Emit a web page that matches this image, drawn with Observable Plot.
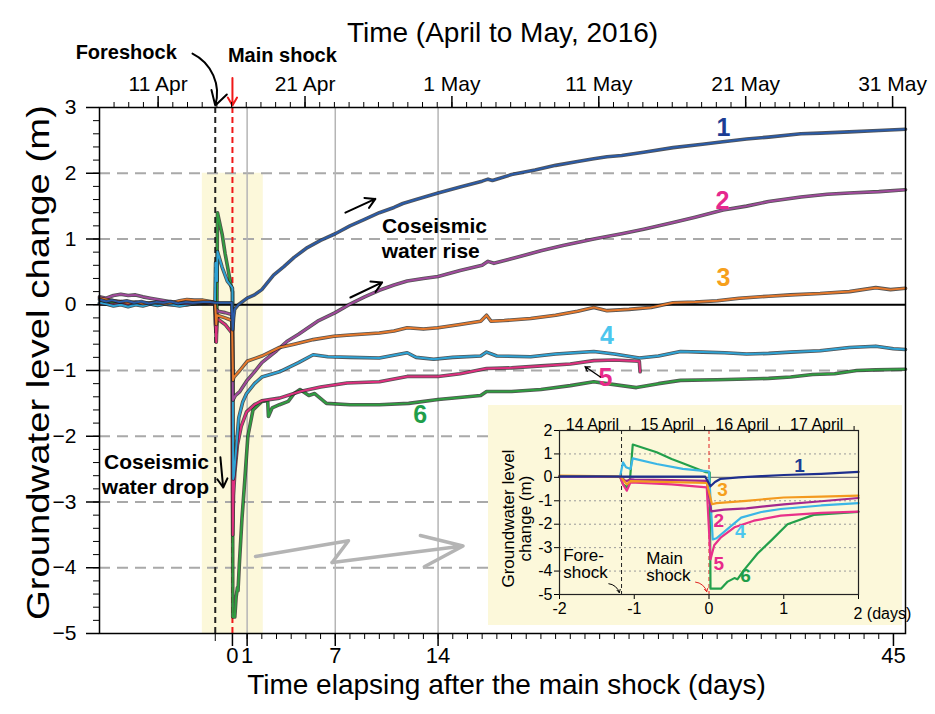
<!DOCTYPE html>
<html><head><meta charset="utf-8">
<script src="https://cdn.jsdelivr.net/npm/d3@7"></script>
<script src="https://cdn.jsdelivr.net/npm/@observablehq/plot@0.6"></script>
<style>
html,body{margin:0;padding:0;background:#fff;}
#wrap{position:relative;width:935px;height:714px;overflow:hidden;background:#fff;}
#inset{position:absolute;left:488px;top:405px;}
svg{display:block;}
</style></head><body>
<div id="wrap"><div id="main"></div><div id="inset"></div></div>
<script>
// ---------------- data: [days after main shock, groundwater level change (m)] ----------------
const well1 = [[-9.05,0.08],[-8.6,0.05],[-8.2,0.07],[-7.7,0.04],[-7.2,0.06],[-6.7,0.03],[-6.2,0.05],[-5.7,0.02],[-5.2,0.04],[-4.7,0.03],[-4.2,0.05],[-3.7,0.02],[-3.2,0.04],[-2.7,0.03],[-2,0.04],[-1.5,0.04],[-1.17,0.03],[-0.6,0.03],[-0.05,0.03],[0.02,-0.38],[0.08,-0.2],[0.15,-0.07],[0.4,0.0],[0.7,0.05],[1,0.1],[1.5,0.15],[2,0.23],[2.8,0.45],[3.5,0.58],[4.2,0.72],[5.1,0.87],[6,0.98],[7,1.08],[8,1.2],[9,1.3],[10,1.4],[11,1.48],[11.6,1.54],[12.5,1.6],[14,1.7],[15.5,1.79],[17,1.88],[17.4,1.91],[17.7,1.89],[19,1.98],[20.6,2.05],[22,2.12],[23.5,2.18],[24.6,2.22],[25.5,2.25],[26.5,2.27],[28,2.32],[30,2.39],[32,2.44],[33.4,2.48],[35,2.52],[36.5,2.55],[38.7,2.6],[40,2.61],[42,2.63],[44,2.65],[45.82,2.67]];
const well2 = [[-9.05,0.12],[-8.6,0.1],[-8.1,0.14],[-7.6,0.16],[-7.1,0.14],[-6.6,0.15],[-6.1,0.12],[-5.6,0.1],[-5.1,0.08],[-4.6,0.06],[-4.1,0.04],[-3.6,0.03],[-3.1,0.02],[-2.5,0.03],[-2,0.04],[-1.5,0.03],[-1.18,0.02],[-1.13,-0.12],[-1.1,-0.16],[-1.05,-0.08],[-1.0,-0.1],[-0.5,-0.12],[-0.03,-0.15],[0.03,-1.45],[0.2,-1.38],[0.5,-1.32],[1,-1.15],[1.5,-1.02],[2,-0.88],[3,-0.7],[3.7,-0.56],[4.5,-0.45],[5.8,-0.25],[7,-0.12],[8,0.01],[9,0.12],[10,0.22],[11,0.3],[11.9,0.36],[13,0.4],[14,0.43],[15.5,0.52],[17,0.6],[17.4,0.66],[17.8,0.63],[19.5,0.73],[21,0.82],[22.5,0.9],[24.6,1.0],[26.5,1.08],[28,1.15],[30,1.25],[31.5,1.33],[33.4,1.44],[35,1.5],[36.5,1.57],[38.7,1.64],[40.5,1.68],[42,1.7],[44,1.72],[45.82,1.75]];
const well3 = [[-9.05,0.1],[-8.6,0.08],[-8.1,0.06],[-7.6,0.05],[-7.1,0.03],[-6.6,0.04],[-6.1,0.02],[-5.6,0.03],[-5.1,0.03],[-4.6,0.02],[-4.1,0.03],[-3.6,0.06],[-3.1,0.08],[-2.6,0.07],[-2,0.07],[-1.5,0.05],[-1.18,0.03],[-1.15,-0.1],[-1.1,-0.3],[-1.05,-0.16],[-0.5,-0.2],[-0.03,-0.24],[0.04,-1.15],[0.1,-1.1],[0.5,-1.0],[1,-0.86],[1.5,-0.82],[2,-0.78],[3.2,-0.65],[4.2,-0.6],[5.5,-0.53],[6.9,-0.48],[8,-0.46],[10,-0.43],[11,-0.4],[11.9,-0.35],[13,-0.37],[14,-0.35],[15.5,-0.3],[16.9,-0.25],[17.3,-0.16],[17.6,-0.25],[18.5,-0.24],[20.3,-0.21],[22,-0.16],[23.5,-0.1],[24.6,-0.04],[25.5,-0.09],[27,-0.07],[28.5,-0.04],[30,0.03],[31.5,0.04],[33,0.06],[34.5,0.1],[36.5,0.13],[38,0.15],[40,0.17],[42,0.2],[43.8,0.26],[44.8,0.23],[45.82,0.25]];
const well4 = [[-9.05,0.03],[-8.6,0.01],[-8.1,-0.02],[-7.6,0.0],[-7.1,-0.03],[-6.6,0.0],[-6.1,-0.02],[-5.6,0.01],[-5.1,-0.01],[-4.6,0.01],[-4.1,0.0],[-3.6,-0.02],[-3.1,0.0],[-2.6,0.02],[-2,0.04],[-1.5,0.04],[-1.19,0.04],[-1.15,0.64],[-1.11,0.43],[-1.05,0.36],[-1.02,0.81],[-0.7,0.57],[-0.35,0.36],[-0.04,0.27],[0.0,0.25],[0.05,-2.65],[0.1,-2.6],[0.25,-2.2],[0.43,-1.72],[0.7,-1.48],[0.96,-1.35],[1.5,-1.2],[2,-1.1],[3.2,-1.02],[4.5,-0.88],[5.5,-0.76],[6.5,-0.79],[8,-0.8],[10,-0.81],[11.9,-0.73],[12.5,-0.8],[13.7,-0.83],[15,-0.8],[16.9,-0.78],[17.3,-0.72],[18,-0.78],[20.3,-0.79],[22,-0.75],[24.6,-0.71],[26,-0.75],[27.7,-0.81],[29,-0.78],[30.5,-0.71],[32,-0.72],[33.5,-0.73],[35,-0.75],[36.5,-0.74],[38,-0.72],[40,-0.7],[42,-0.65],[43.8,-0.63],[45,-0.67],[45.82,-0.68]];
const well5 = [[-9.05,0.02],[-8.1,0.0],[-7.1,0.02],[-6.1,0.0],[-5.1,0.02],[-4.1,0.0],[-3.1,0.02],[-2,0.03],[-1.19,0.02],[-1.15,-0.3],[-1.1,-0.57],[-1.05,-0.21],[-0.5,-0.3],[-0.03,-0.43],[0.02,-3.5],[0.07,-2.9],[0.16,-2.56],[0.34,-2.13],[0.6,-1.85],[0.96,-1.63],[1.5,-1.52],[2,-1.46],[3.2,-1.42],[4.6,-1.32],[6,-1.25],[7.8,-1.19],[10,-1.17],[11.9,-1.09],[14,-1.09],[15.5,-1.05],[17.3,-0.97],[19,-0.96],[21,-0.93],[23,-0.9],[24.6,-0.85],[26,-0.84],[27.7,-0.86],[27.75,-1.02]];
const well6 = [[-9.05,0.02],[-8.1,0.03],[-7.1,0.0],[-6.1,0.02],[-5.1,0.0],[-4.1,0.02],[-3.1,0.0],[-2,0.03],[-1.19,0.02],[-1.15,-0.3],[-1.1,-0.42],[-1.06,-0.2],[-1.02,1.4],[-0.7,1.07],[-0.5,0.78],[-0.35,0.6],[-0.04,0.22],[0.01,0.2],[0.02,-4.75],[0.16,-4.75],[0.25,-4.45],[0.34,-4.3],[0.38,-4.35],[0.47,-3.95],[0.65,-3.25],[0.83,-2.7],[1.05,-2.0],[1.4,-1.6],[2,-1.47],[2.4,-1.46],[2.45,-1.7],[2.7,-1.57],[3.2,-1.52],[3.8,-1.47],[4.2,-1.35],[4.6,-1.29],[5.2,-1.38],[5.6,-1.35],[6.4,-1.5],[8,-1.52],[10,-1.52],[12,-1.5],[14,-1.44],[16.9,-1.38],[17.3,-1.32],[19,-1.32],[21,-1.29],[23,-1.23],[24.6,-1.17],[25.5,-1.2],[27.5,-1.26],[29,-1.2],[30.5,-1.15],[33,-1.14],[35,-1.13],[36.5,-1.12],[38,-1.1],[39.5,-1.06],[41,-1.05],[42.5,-1.0],[43.8,-0.99],[45.82,-0.98]];

const wellNames = ["1","2","3","4","5","6"];
const mainShockTime = "2016-04-16T01:25:00+09:00";
const foreshockDay = -1.17;
const yTicks = [-5,-4,-3,-2,-1,0,1,2,3];
const gridValues = [2,1,-1,-2,-3,-4];
const bottomTicks = [0,1,7,14,45];
const refDays = [1,7,14];
const topTickDates = ["2016-04-11","2016-04-21","2016-05-01","2016-05-11","2016-05-21","2016-05-31"];
const topTickLabels = ["11 Apr","21 Apr","1 May","11 May","21 May","31 May"];
const insetDayDates = ["2016-04-14","2016-04-15","2016-04-16","2016-04-17"];
const insetDayLabels = ["14 April","15 April","16 April","17 April"];
const insetBoundaryDates = ["2016-04-15","2016-04-16","2016-04-17","2016-04-18"];
const insetXTicks = [-2,-1,0,1,2];
const insetYTicks = [-5,-4,-3,-2,-1,0,1,2];
const insetGrid = [1,-1,-2,-3,-4];

// ---------------- styles ----------------
const lineColors = ["#2a5ba8","#a04a9c","#e6792b","#2ea2d4","#df2f7f","#2f9e40"];
const labelColors = ["#1c3d93","#e5288e","#f6a01c","#4cc6ee","#e8298b","#1f9e4a"];
const insetColors = ["#1e2f8e","#a3288e","#f39a1f","#3bb6e6","#e8318a","#23a04b"];
const FONT = "'Liberation Sans', Arial, Helvetica, sans-serif";
const wells = [well1, well2, well3, well4, well5, well6];
const drawOrder = [5,4,3,1,2,0];

const t0 = Date.parse(mainShockTime);
const dayOffset = s => (Date.parse(s + "T00:00:00+09:00") - t0) / 864e5;
const topMajor = topTickDates.map(dayOffset);
const topLabelMap = new Map(topMajor.map((d, i) => [d, topTickLabels[i]]));
const topMinor = d3.range(0, 60).map(i => dayOffset("2016-04-07") + i).filter(d => d >= -9.05 && d <= 45.82);
const bottomMinor = d3.range(1, 46);
const yMinor = d3.range(-25, 16).map(i => i / 5);
const fmtMinus = d => d < 0 ? "\u2212" + Math.abs(d) : String(d);

const txt = (x, y, t, o = {}) => Plot.text([{x, y, t}], {x: "x", y: "y", text: "t", ...o});

// ---------------- main chart ----------------
const mainMarks = [
  Plot.rect([0], {x1: -2.05, x2: 2.1, y1: -5, y2: 2, fill: "#fcf8da"}),
  Plot.ruleY(gridValues, {stroke: "#a9a9a9", strokeWidth: 2, strokeDasharray: "11,7"}),
  Plot.ruleX(refDays, {stroke: "#b5b5b5", strokeWidth: 1.5}),
  Plot.ruleY([0], {stroke: "#000", strokeWidth: 2}),
  Plot.ruleX([foreshockDay], {stroke: "#222", strokeWidth: 2, strokeDasharray: "6,4"}),
  Plot.ruleX([0], {stroke: "#f01818", strokeWidth: 2, strokeDasharray: "6,4"})
];
for (const i of drawOrder) {
  mainMarks.push(Plot.line(wells[i], {x: d => d[0], y: d => d[1], stroke: "#1b1b1b", strokeOpacity: 0.75, strokeWidth: 3.6, strokeLinejoin: "round"}));
  mainMarks.push(Plot.line(wells[i], {x: d => d[0], y: d => d[1], stroke: lineColors[i], strokeWidth: 2, strokeLinejoin: "round"}));
}
const numPos = [[33.42,2.69],[33.36,1.58],[33.42,0.41],[25.5,-0.47],[25.4,-1.11],[12.78,-1.68]];
wellNames.forEach((n, i) => mainMarks.push(txt(numPos[i][0], numPos[i][1], n, {fill: labelColors[i], fontSize: 25, fontWeight: "bold"})));
mainMarks.push(
  // annotations
  txt(-7.23, 3.83, "Foreshock", {fontSize: 20, fontWeight: "bold"}),
  txt(3.4, 3.79, "Main shock", {fontSize: 20, fontWeight: "bold"}),
  Plot.arrow([0], {x1: -2.72, y1: 3.82, x2: foreshockDay, y2: 3.03, bend: 40, stroke: "#000", strokeWidth: 2, headLength: 12}),
  Plot.arrow([0], {x1: 0, y1: 3.45, x2: 0, y2: 3.03, stroke: "#f01818", strokeWidth: 2, headLength: 12}),
  txt(13.75, 1.19, "Coseismic", {fontSize: 21, fontWeight: "bold"}),
  txt(13.5, 0.82, "water rise", {fontSize: 21, fontWeight: "bold"}),
  Plot.arrow([0], {x1: 7.69, y1: 1.40, x2: 9.73, y2: 1.61, stroke: "#000", strokeWidth: 2, headLength: 11}),
  Plot.arrow([0], {x1: 8.03, y1: 0.11, x2: 10.19, y2: 0.34, stroke: "#000", strokeWidth: 2, headLength: 11}),
  txt(-5.17, -2.40, "Coseismic", {fontSize: 21, fontWeight: "bold"}),
  txt(-5.24, -2.78, "water drop", {fontSize: 21, fontWeight: "bold"}),
  Plot.arrow([0], {x1: -0.82, y1: -2.32, x2: -0.63, y2: -2.78, stroke: "#000", strokeWidth: 2, headLength: 11}),
  Plot.arrow([0], {x1: 25.05, y1: -1.1, x2: 24.0, y2: -0.94, stroke: "#000", strokeWidth: 1.3, headLength: 6}),
  Plot.line([[1.57,-3.83],[7.9,-3.59],[6.79,-3.92]], {x: d => d[0], y: d => d[1], stroke: "#b4b4b4", strokeWidth: 3.5}),
  Plot.arrow([0], {x1: 6.79, y1: -3.92, x2: 15.7, y2: -3.67, stroke: "#b4b4b4", strokeWidth: 3.5, headLength: 30, headAngle: 42}),
  // axes
  Plot.axisY(yTicks, {anchor: "left", tickSize: 13, tickPadding: 10, fontSize: 21, strokeWidth: 1.5, tickFormat: fmtMinus, label: null}),
  Plot.axisY(yMinor, {anchor: "left", tickSize: 6, tickFormat: () => "", label: null}),
  Plot.axisX(bottomTicks, {anchor: "bottom", tickSize: 13, tickPadding: 1, fontSize: 22, strokeWidth: 1.5, tickFormat: d => String(d), label: null}),
  Plot.axisX(bottomMinor, {anchor: "bottom", tickSize: 6, tickFormat: () => "", label: null}),
  Plot.axisX([foreshockDay], {anchor: "bottom", tickSize: 8, tickFormat: () => "", label: null}),
  Plot.axisX(topMajor, {anchor: "top", tickSize: 12, tickPadding: 5, fontSize: 21, strokeWidth: 1.5, tickFormat: d => topLabelMap.get(d), label: null}),
  Plot.axisX(topMinor, {anchor: "top", tickSize: 6, tickFormat: () => "", label: null}),
  Plot.frame({stroke: "#000", strokeWidth: 1.5}),
  Plot.text(["Time (April to May, 2016)"], {text: d => d, frameAnchor: "top", dy: -85, fontSize: 28}),
  Plot.text(["Time elapsing after the main shock (days)"], {text: d => d, frameAnchor: "bottom", dy: 60, dx: 4, fontSize: 28}),
  txt(-13.2, -0.88, "Groundwater level change (m)", {fontSize: 32, rotate: -90, textAnchor: "middle"})
);

const main = Plot.plot({
  width: 935, height: 714,
  marginLeft: 99, marginRight: 30, marginTop: 107, marginBottom: 81,
  x: {domain: [-9.05, 45.82]},
  y: {domain: [-5, 3]},
  style: {fontFamily: FONT, background: "#fff", color: "#000", overflow: "visible"},
  marks: mainMarks
});
main.querySelectorAll("text").forEach(t => {
  if (t.textContent === "Groundwater level change (m)") {
    t.setAttribute("textLength", 515);
    t.setAttribute("lengthAdjust", "spacingAndGlyphs");
  }
});
document.getElementById("main").appendChild(main);

// ---------------- inset ----------------
const insetMarks = [
  Plot.ruleY(insetGrid, {stroke: "#9a9a9a", strokeWidth: 1, strokeDasharray: "2,3"}),
  Plot.ruleY([0], {stroke: "#7a7a7a", strokeWidth: 1.3}),
  Plot.ruleX([foreshockDay], {stroke: "#222", strokeWidth: 1, strokeDasharray: "4,3"}),
  Plot.ruleX([0], {stroke: "#e02020", strokeWidth: 1, strokeDasharray: "4,3"})
];
for (const i of drawOrder) {
  insetMarks.push(Plot.line(wells[i].filter(d => d[0] >= -2 && d[0] <= 2), {x: d => d[0], y: d => d[1], stroke: insetColors[i], strokeWidth: 2.2, strokeLinejoin: "round"}));
}
const insetNumPos = [[1.21,0.51],[0.13,-1.88],[0.18,-0.53],[0.42,-2.34],[0.13,-3.68],[0.49,-4.19]];
wellNames.forEach((n, i) => insetMarks.push(txt(insetNumPos[i][0], insetNumPos[i][1], n, {fill: labelColors[i], fontSize: 19, fontWeight: "bold"})));
insetMarks.push(
  txt(-1.95, -3.33, "Fore-", {fontSize: 17, textAnchor: "start"}),
  txt(-1.95, -4.06, "shock", {fontSize: 17, textAnchor: "start"}),
  txt(-0.84, -3.46, "Main", {fontSize: 17, textAnchor: "start"}),
  txt(-0.84, -4.19, "shock", {fontSize: 17, textAnchor: "start"}),
  Plot.arrow([0], {x1: -1.34, y1: -4.54, x2: -1.2, y2: -4.92, bend: 35, stroke: "#000", strokeWidth: 1, headLength: 5}),
  Plot.arrow([0], {x1: -0.18, y1: -4.47, x2: -0.03, y2: -4.88, bend: 35, stroke: "#e02020", strokeWidth: 1, headLength: 5}),
  Plot.axisY(insetYTicks, {anchor: "left", tickSize: 5, tickPadding: 2, fontSize: 16, tickFormat: d => String(d), label: null}),
  Plot.axisX(insetXTicks, {anchor: "bottom", tickSize: 5, tickPadding: 3, fontSize: 16, tickFormat: d => d === 2 ? "" : String(d), label: null}),
  txt(2, -5, "2 (days)", {fontSize: 16, textAnchor: "start", dx: -5, dy: 19}),
  Plot.axisX(insetBoundaryDates.map(dayOffset), {anchor: "top", tickSize: 5, tickFormat: () => "", label: null}),
  Plot.text(insetDayLabels, {text: d => d, x: (d, i) => dayOffset(insetDayDates[i]) + 0.5, frameAnchor: "top", dy: -12, fontSize: 16}),
  Plot.frame({stroke: "#222", strokeWidth: 1.2}),
  txt(-2.68, -1.76, "Groundwater level", {fontSize: 17, rotate: -90}),
  txt(-2.455, -1.76, "change (m)", {fontSize: 17, rotate: -90})
);
const inset = Plot.plot({
  width: 414, height: 220,
  marginLeft: 71, marginRight: 44, marginTop: 25, marginBottom: 31,
  x: {domain: [-2, 2]},
  y: {domain: [-5, 2]},
  style: {fontFamily: FONT, background: "#fcf8da", color: "#000", overflow: "visible"},
  marks: insetMarks
});
document.getElementById("inset").appendChild(inset);
</script>
</body></html>
